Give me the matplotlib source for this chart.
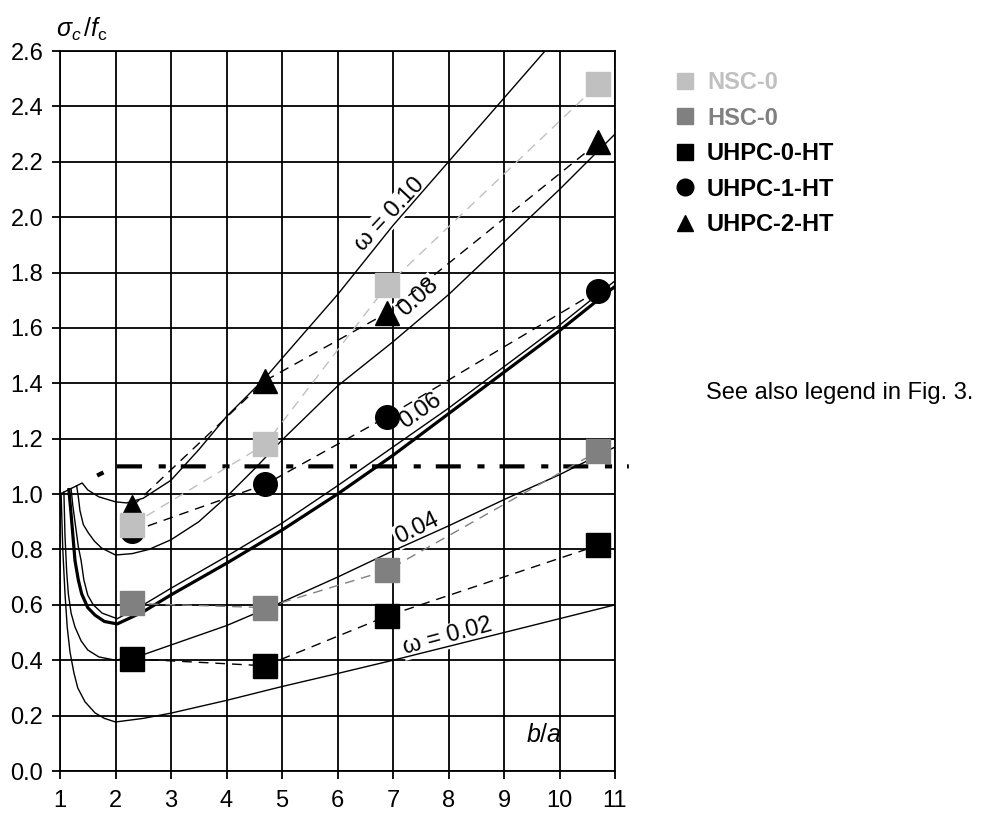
import matplotlib
matplotlib.use("Agg")
import matplotlib.pyplot as plt
from matplotlib.lines import Line2D

plt.rcParams['font.family'] = ['Liberation Sans', 'DejaVu Sans']
plt.rcParams['mathtext.fontset'] = 'custom'
plt.rcParams['mathtext.rm'] = 'Liberation Sans'
plt.rcParams['mathtext.it'] = 'Liberation Sans:italic'

# theoretical curves, sigma_c/f_c over b/a for several omega
w02_x = [1.02, 1.05, 1.09, 1.13, 1.18, 1.25, 1.32, 1.45, 1.63, 1.8, 2.0, 2.5, 3, 4, 5, 6, 7, 8, 9, 10, 11]
w02_y = [1.002, 0.80, 0.64, 0.52, 0.43, 0.355, 0.30, 0.25, 0.21, 0.19, 0.177, 0.19, 0.209, 0.255, 0.305, 0.352, 0.40, 0.45, 0.50, 0.55, 0.60]

w04_x = [1.07, 1.09, 1.12, 1.15, 1.2, 1.27, 1.38, 1.5, 1.7, 2.0, 2.5, 3, 4, 5, 6, 7, 8, 9, 10, 11]
w04_y = [1.007, 0.85, 0.72, 0.64, 0.57, 0.52, 0.47, 0.437, 0.412, 0.40, 0.42, 0.455, 0.525, 0.61, 0.70, 0.795, 0.885, 0.98, 1.07, 1.17]

w06a_x = [1.16, 1.19, 1.22, 1.27, 1.33, 1.39, 1.5, 1.63, 1.8, 2.03, 2.5, 3, 4, 5, 6, 7, 8, 9, 10, 11]
w06a_y = [1.016, 0.95, 0.88, 0.76, 0.69, 0.64, 0.59, 0.563, 0.54, 0.531, 0.575, 0.636, 0.75, 0.87, 1.0, 1.14, 1.29, 1.44, 1.59, 1.75]

w06b_x = [1.2, 1.23, 1.27, 1.33, 1.38, 1.43, 1.5, 1.6, 1.76, 2.03, 2.5, 3, 4, 5, 6, 7, 8, 9, 10, 11]
w06b_y = [1.02, 0.96, 0.90, 0.81, 0.76, 0.69, 0.635, 0.60, 0.57, 0.55, 0.60, 0.66, 0.775, 0.895, 1.03, 1.17, 1.31, 1.46, 1.61, 1.77]

w08_x = [1.3, 1.33, 1.36, 1.42, 1.51, 1.62, 1.75, 2.0, 2.3, 2.6, 3, 3.5, 4, 4.5, 5, 6, 7, 8, 9, 10, 11]
w08_y = [1.03, 0.99, 0.94, 0.89, 0.86, 0.83, 0.805, 0.78, 0.785, 0.80, 0.835, 0.90, 0.99, 1.09, 1.195, 1.39, 1.55, 1.72, 1.91, 2.10, 2.30]

w10_x = [1.0, 1.4, 1.5, 1.7, 2.0, 2.2, 2.5, 3, 3.5, 4, 4.7, 5, 6, 7, 8, 9, 10]
w10_y = [1.0, 1.04, 1.015, 0.99, 0.972, 0.968, 0.985, 1.05, 1.16, 1.28, 1.42, 1.49, 1.72, 1.97, 2.20, 2.43, 2.66]

limit_x = [1.4, 2.0, 11.25]
limit_y = [1.04, 1.1, 1.1]

# test results
ba = [2.3, 4.7, 6.9, 10.7]
nsc0 = [0.89, 1.18, 1.755, 2.48]
hsc0 = [0.605, 0.59, 0.725, 1.155]
uhpc0 = [0.405, 0.38, 0.56, 0.815]
uhpc1 = [0.865, 1.035, 1.28, 1.735]
uhpc2 = [0.955, 1.41, 1.655, 2.27]

fig = plt.figure(figsize=(9.86, 8.16), dpi=100)
ax = fig.add_axes([60 / 986, 1 - 771 / 816, 555 / 986, 720 / 816])

ax.set_xlim(1, 11)
ax.set_ylim(0, 2.6)
ax.set_xticks(range(1, 12))
ax.set_yticks([i * 0.2 for i in range(14)])
ax.set_yticklabels([f'{i * 0.2:.1f}' for i in range(14)])
ax.grid(True, color='black', lw=1.3)
ax.set_axisbelow(True)
for s in ax.spines.values():
    s.set_color('black')
    s.set_linewidth(1.3)
ax.tick_params(direction='out', length=6, width=1.3, labelsize=17, color='black')
ax.tick_params(axis='x', pad=8)
ax.tick_params(axis='y', pad=6)

thin = dict(color='black', lw=1.0, zorder=3)
ax.plot(w02_x, w02_y, **thin)
ax.plot(w04_x, w04_y, **thin)
ax.plot(w06b_x, w06b_y, **thin)
ax.plot(w06a_x, w06a_y, color='black', lw=2.3, zorder=3)
ax.plot(w08_x, w08_y, **thin)
ax.plot(w10_x, w10_y, **thin)
ax.plot(limit_x, limit_y, color='black', lw=3, ls=(6, (6, 4, 1.7, 3.6)), clip_on=False, zorder=3)

lbl = dict(fontsize=17, ha='center', va='center', zorder=2.5,
           bbox=dict(facecolor='white', edgecolor='none', pad=1))
ax.text(6.95, 2.01, 'ω = 0.10', rotation=47, **lbl)
ax.text(7.45, 1.71, '0.08', rotation=42, **lbl)
ax.text(7.49, 1.30, '0.06', rotation=35, **lbl)
ax.text(7.43, 0.875, '0.04', rotation=26, **lbl)
ax.text(7.99, 0.485, 'ω = 0.02', rotation=15, **lbl)

dash = (0, (7, 5))
ax.plot(ba, uhpc0, color='black', lw=1.0, ls=dash, marker='s', ms=17, mec='black', zorder=4)
ax.plot(ba, hsc0, color='#808080', lw=1.0, ls=dash, marker='s', ms=17, mec='#808080', zorder=4)
ax.plot(ba, uhpc1, color='black', lw=1.0, ls=dash, marker='o', ms=17, zorder=4)
ax.plot(ba, uhpc2, color='black', lw=1.0, ls=dash, marker='^', ms=17, zorder=4)
ax.plot(ba, nsc0, color='#c0c0c0', lw=1.0, ls=dash, marker='s', ms=17, mec='#c0c0c0', zorder=4)

ax.text(0.84, 0.05, '$b/a$', transform=ax.transAxes, fontsize=18, ha='left', va='center')
fig.text(56 / 986, 1 - 29 / 816, r'$\sigma_c\,/f_{\rm c}$', fontsize=18, ha='left', va='center')

handles = [
    Line2D([], [], ls='none', marker='s', ms=11, color='#c0c0c0'),
    Line2D([], [], ls='none', marker='s', ms=11, color='#808080'),
    Line2D([], [], ls='none', marker='s', ms=11, color='black'),
    Line2D([], [], ls='none', marker='o', ms=12, color='black'),
    Line2D([], [], ls='none', marker='^', ms=12, color='black'),
]
names = ['NSC-0', 'HSC-0', 'UHPC-0-HT', 'UHPC-1-HT', 'UHPC-2-HT']
fig.legend(handles, names, loc='upper left', bbox_to_anchor=(676 / 986, 1 - 71 / 816),
           frameon=False, prop=dict(size=17, weight='bold'), handlelength=0.8,
           handletextpad=0.51, labelspacing=0.53, borderpad=0, borderaxespad=0,
           labelcolor=['#c0c0c0', '#808080', 'black', 'black', 'black'])
fig.text(706 / 986, 1 - 393 / 816, 'See also legend in Fig. 3.', fontsize=17, ha='left', va='center')

fig.savefig('out.png', dpi=100)
